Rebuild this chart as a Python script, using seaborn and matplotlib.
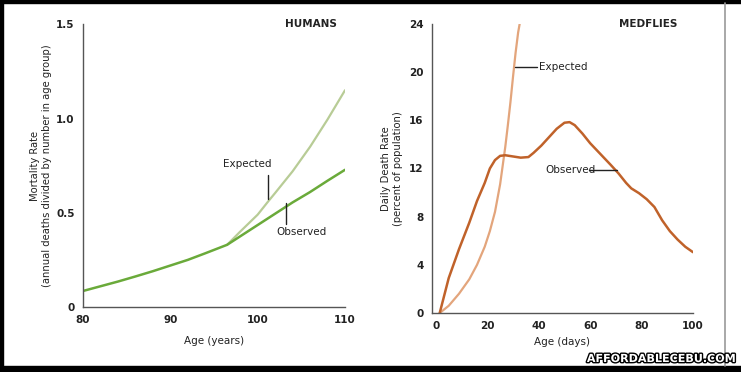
import matplotlib
matplotlib.use("Agg")
import matplotlib.pyplot as plt
import matplotlib.patheffects as pe
from matplotlib import font_manager
import seaborn as sns

# humans (age in years, annual mortality rate)
human_obs_age = [80, 82, 84, 86, 88, 90, 92, 94, 96.5, 98, 100, 102, 104, 106, 108, 110]
human_obs_rate = [0.085, 0.11, 0.135, 0.162, 0.19, 0.22, 0.25, 0.285, 0.33, 0.375, 0.435, 0.495, 0.555, 0.61, 0.67, 0.728]
human_exp_age = [96.5, 98, 100, 101.2, 102, 104, 106, 108, 110]
human_exp_rate = [0.33, 0.40, 0.49, 0.56, 0.605, 0.72, 0.85, 0.995, 1.15]

# medflies (age in days, daily death rate %)
fly_obs_age = [1.5, 5, 9, 13, 16, 19, 21, 23, 25, 27, 30, 33, 36, 38, 41, 44, 47, 50, 52,
               54, 57, 60, 64, 68, 71, 74, 76, 79, 82, 85, 88, 91, 94, 97, 100]
fly_obs_rate = [0, 2.9, 5.3, 7.5, 9.3, 10.8, 12.0, 12.7, 13.05, 13.1, 13.0, 12.9, 12.95, 13.3,
                13.9, 14.6, 15.3, 15.8, 15.85, 15.6, 14.9, 14.1, 13.2, 12.3, 11.6, 10.8, 10.35,
                9.95, 9.45, 8.8, 7.7, 6.8, 6.1, 5.5, 5.05]
fly_exp_age = [1.5, 5, 9, 13, 16, 19, 21, 23, 25, 27, 28, 29, 30, 31, 32, 33]
fly_exp_rate = [0, 0.6, 1.6, 2.8, 4.0, 5.5, 6.8, 8.4, 10.7, 13.8, 15.6, 17.5, 19.6, 21.6, 23.3, 24.5]

sns.set_style("white")
names = {f.name for f in font_manager.fontManager.ttflist}
fam = "Liberation Sans Narrow" if "Liberation Sans Narrow" in names else "DejaVu Sans"
plt.rcParams["font.family"] = [fam, "DejaVu Sans"]
plt.rcParams["axes.edgecolor"] = "#555555"
txt = "#222222"

fig = plt.figure(figsize=(7.41, 3.72), dpi=100)
fig.patch.set_facecolor("white")

def style(ax):
    sns.despine(ax=ax)
    ax.tick_params(axis="both", direction="out", length=3, width=1, color="#555555",
                   labelsize=7.5, labelcolor=txt, pad=3)
    for lab in ax.get_xticklabels() + ax.get_yticklabels():
        lab.set_fontweight("bold")
    ax.spines["left"].set_linewidth(1)
    ax.spines["bottom"].set_linewidth(1)

# humans
ax1 = fig.add_axes([83/741, 1-307/372, 262/741, 282.7/372])
sns.lineplot(x=human_exp_age, y=human_exp_rate, ax=ax1, color="#b8cc96", linewidth=1.6)
sns.lineplot(x=human_obs_age, y=human_obs_rate, ax=ax1, color="#6aaa3a", linewidth=1.8)
ax1.set_xlim(80, 110)
ax1.set_ylim(0, 1.5)
ax1.set_xticks([80, 90, 100, 110])
ax1.set_yticks([0, 0.5, 1.0, 1.5])
ax1.set_yticklabels(["0", "0.5", "1.0", "1.5"])
style(ax1)
ax1.set_xlabel("Age (years)", fontsize=7.5, color=txt, labelpad=8)
ax1.set_ylabel("Mortality Rate\n(annual deaths divided by number in age group)",
               fontsize=7.2, color=txt)
ax1.yaxis.set_label_coords(-0.118, 0.5)
ax1.text(109.1, 1.5, "HUMANS", ha="right", va="center", fontsize=7.5, fontweight="bold", color=txt)
ax1.text(98.86, 0.76, "Expected", ha="center", va="center", fontsize=7.5, color=txt)
ax1.plot([101.13, 101.13], [0.70, 0.574], color="#222222", lw=1)
ax1.text(105.0, 0.40, "Observed", ha="center", va="center", fontsize=7.5, color=txt)
ax1.plot([103.3, 103.3], [0.552, 0.441], color="#222222", lw=1)

# medflies
ax2 = fig.add_axes([432/741, 1-313/372, 261/741, 289/372])
sns.lineplot(x=fly_exp_age, y=fly_exp_rate, ax=ax2, color="#e3a57c", linewidth=1.6)
sns.lineplot(x=fly_obs_age, y=fly_obs_rate, ax=ax2, color="#c0622a", linewidth=1.8)
ax2.set_xlim(-1.5, 100)
ax2.set_ylim(0, 24)
ax2.set_xticks([0, 20, 40, 60, 80, 100])
ax2.set_yticks([0, 4, 8, 12, 16, 20, 24])
style(ax2)
ax2.set_xlabel("Age (days)", fontsize=7.5, color=txt, labelpad=4)
ax2.set_ylabel("Daily Death Rate\n(percent of population)", fontsize=7.2, color=txt)
ax2.yaxis.set_label_coords(-0.111, 0.5)
ax2.text(93.9, 24.0, "MEDFLIES", ha="right", va="center", fontsize=7.5, fontweight="bold", color=txt)
ax2.text(40.1, 20.4, "Expected", ha="left", va="center", fontsize=7.5, color=txt)
ax2.plot([30.8, 39.3], [20.4, 20.4], color="#222222", lw=1)
ax2.text(42.5, 11.9, "Observed", ha="left", va="center", fontsize=7.5, color=txt)
ax2.plot([59.6, 70.5], [11.9, 11.9], color="#222222", lw=1)

# frame around the picture
W, H = 741, 372
fig.patches.append(plt.Rectangle((0, 1-3/H), 1, 3/H, transform=fig.transFigure, color="black"))
fig.patches.append(plt.Rectangle((0, 0), 3/W, 1, transform=fig.transFigure, color="black"))
fig.patches.append(plt.Rectangle((0, 0), 1, 6/H, transform=fig.transFigure, color="black"))
fig.add_artist(plt.Line2D([725/W, 725/W], [6/H, 1-3/H], color="#999999", lw=1.2))

fig.text(661/W, 1-359/H, "AFFORDABLECEBU.COM", ha="center", va="center", fontsize=8,
         fontweight="bold", color="white", family="DejaVu Sans",
         path_effects=[pe.withStroke(linewidth=2, foreground="black")])

fig.savefig("out.png", dpi=100)
